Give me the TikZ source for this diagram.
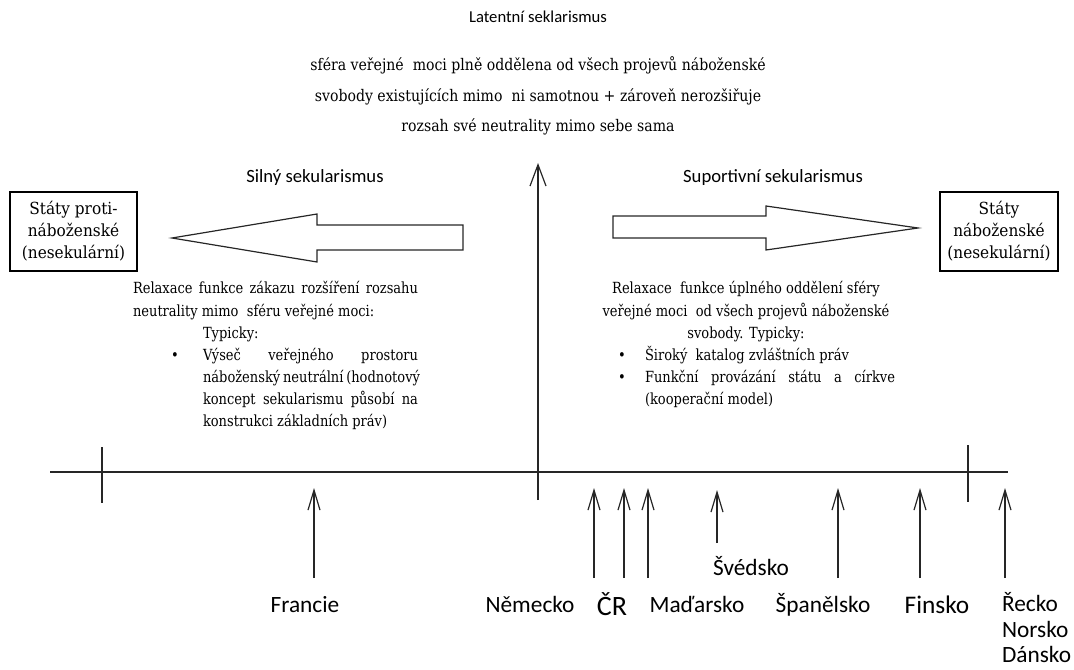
\documentclass[tikz,border=0pt]{standalone}
\usepackage{fontspec}
\setmainfont{DejaVu Serif}[FakeStretch=0.85]
\newfontfamily\topserif{DejaVu Serif}[FakeStretch=0.88]
\newfontfamily\boxserif{DejaVu Serif}[FakeStretch=0.92]
\newfontfamily\calib{Carlito}
\usetikzlibrary{arrows.meta}
\begin{document}
\begin{tikzpicture}[x=0.75pt,y=-0.75pt,
  every node/.style={inner sep=0pt,outer sep=0pt},
  head/.style={font=\calib\fontsize{14}{16}\selectfont},
  serif/.style={font=\topserif\fontsize{12}{14}\selectfont},
  body/.style={font=\fontsize{11.5}{13}\selectfont,anchor=west,text height=8.5pt,text depth=2.5pt},
  bul/.style={font=\fontsize{11.5}{13}\selectfont,text height=8.5pt,text depth=2.5pt},
  country/.style={font=\calib\fontsize{17.5}{21}\selectfont,text height=12pt,text depth=3.5pt},
  pline/.style={line width=0.9pt,black!85},
  barb/.style={pline,-{Straight Barb[length=15pt,width=9pt]}},
  bigbarb/.style={pline,-{Straight Barb[length=16pt,width=12pt]}},
  statebox/.style={draw,line width=0.8pt,align=center,font=\boxserif\fontsize{12.5}{16.5}\selectfont},
  blockarrow/.style={draw,line width=0.9pt,line join=miter,black!85}
]
\useasboundingbox (0,0) rectangle (1074,670);

% top texts
\node[font=\calib\fontsize{12.5}{15}\selectfont] (title) at (538,17) {Latentní seklarismus};
\node[serif] (t1) at (538,65) {sféra veřejné\ \ moci plně oddělena od všech projevů náboženské};
\node[serif] (t2) at (538,97) {svobody existujících mimo\ \ ni samotnou + zároveň nerozšiřuje};
\node[serif] (t3) at (538,127) {rozsah své neutrality mimo sebe sama};

% headings
\node[head] (silny) at (315,178) {Silný sekularismus};
\node[head] (suport) at (773,178) {Suportivní sekularismus};

% boxes
\node[statebox,minimum width=95.25pt,minimum height=59.25pt] (lbox) at (73.5,231.5) {Státy proti-\\náboženské\\(nesekulární)};
\node[statebox,minimum width=88.5pt,minimum height=59.25pt] (rbox) at (999,231.5) {Státy\\náboženské\\(nesekulární)};

% block arrows
\draw[blockarrow] (463,225) -- (317,225) -- (317,214) -- (172,238) -- (317,262) -- (317,250) -- (463,250) -- cycle;
\draw[blockarrow] (613,216) -- (766,216) -- (766,206) -- (918,228) -- (766,250) -- (766,238) -- (613,238) -- cycle;

% left text block
\node[body] (l1) at (133,290) {\makebox[213.75pt][s]{Relaxace funkce zákazu rozšíření rozsahu}};
\node[body] (l2) at (133,312) {neutrality mimo\ \ sféru veřejné moci:};
\node[body] (l3) at (203,334) {Typicky:};
\node[bul] (lb1) at (175,356) {•};
\node[body] (l4) at (203,356) {\makebox[161.25pt][s]{Výseč veřejného prostoru}};
\node[body] (l5) at (203,378) {\makebox[161.25pt][s]{náboženský neutrální (hodnotový}};
\node[body] (l6) at (203,400) {\makebox[161.25pt][s]{koncept sekularismu působí na}};
\node[body] (l7) at (203,422) {konstrukci základních práv)};

% right text block
\node[bul] (r1) at (746,290) {Relaxace\ \ funkce úplného oddělení sféry};
\node[bul] (r2) at (746,312) {veřejné moci\ \ od všech projevů náboženské};
\node[bul] (r3) at (746,334) {svobody. Typicky:};
\node[bul] (rb1) at (622,356) {•};
\node[body] (r4) at (645,356) {Široký\ \ katalog zvláštních práv};
\node[bul] (rb2) at (622,378) {•};
\node[body] (r5) at (645,378) {\makebox[187.5pt][s]{Funkční provázání státu a církve}};
\node[body] (r6) at (645,400) {(kooperační model)};

% axes
\coordinate (hl) at (50,472);
\coordinate (hr) at (1008,472);
\draw[pline,line width=1.3pt] (hl) -- (hr);
\coordinate (tl0) at (102,447); \coordinate (tl1) at (102,503);
\draw[pline] (tl0) -- (tl1);
\coordinate (tr0) at (968,445); \coordinate (tr1) at (968,502);
\draw[pline] (tr0) -- (tr1);
\coordinate (ax0) at (538,500); \coordinate (ax1) at (538,163);
\draw[bigbarb] (ax0) -- (ax1);

% country arrows
\foreach \n/\x/\yb/\yt in {fr/314/578/488, de/594/578/488, cz/624/578/488, hu/648/578/488, se/717/543/490, es/838/578/488, fi/920/578/488, gr/1005/578/488}{
  \coordinate (\n0) at (\x,\yb);
  \coordinate (\n1) at (\x,\yt);
  \draw[barb] (\n0) -- (\n1);
}

% country labels
\node[country] (francie) at (305,607) {Francie};
\node[country] (nemecko) at (530,607) {Německo};
\node[country,font=\calib\fontsize{21}{24}\selectfont] (cr) at (612,610) {ČR};
\node[country] (madarsko) at (697,607) {Maďarsko};
\node[country] (svedsko) at (751,570) {Švédsko};
\node[country] (spanelsko) at (823,607) {Španělsko};
\node[country,font=\calib\fontsize{19}{22}\selectfont] (finsko) at (937,608) {Finsko};
\node[country,anchor=west] (recko) at (1002,606) {Řecko};
\node[country,anchor=west] (norsko) at (1002,632) {Norsko};
\node[country,anchor=west] (dansko) at (1002,657) {Dánsko};
\end{tikzpicture}
\end{document}
